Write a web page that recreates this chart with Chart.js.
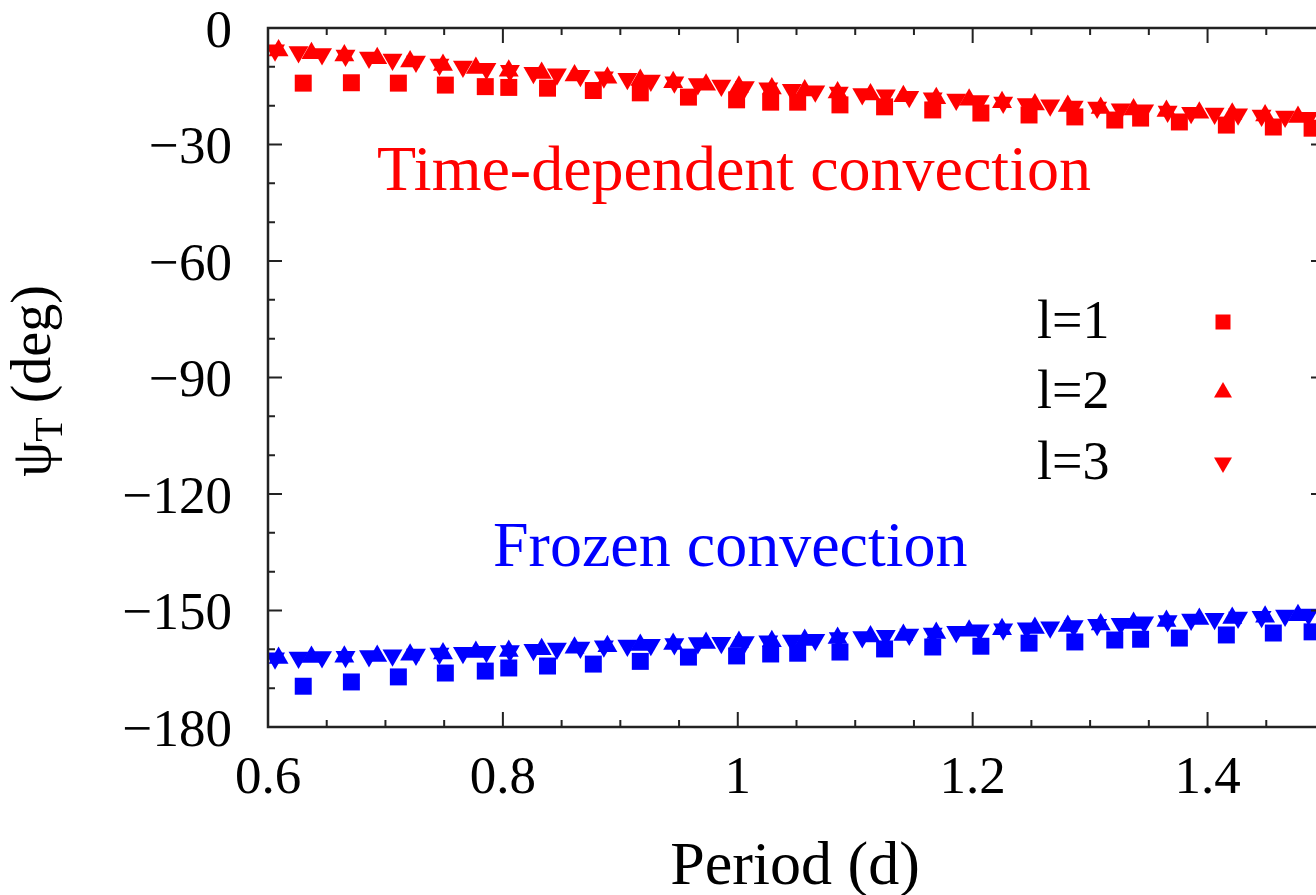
<!DOCTYPE html>
<html>
<head>
<meta charset="utf-8">
<script src="https://cdn.jsdelivr.net/npm/chart.js@4.4.0/dist/chart.umd.min.js"></script>
<style>
  html, body { margin: 0; padding: 0; overflow: hidden; background: #fff; }
  #wrap { width: 1340px; height: 895px; }
</style>
</head>
<body>
<div id="wrap"><canvas id="canvas" width="1340" height="895"></canvas></div>
<script>
// tick labels
var xTicks = [0.6, 0.8, 1, 1.2, 1.4];
var yTicks = [0, -30, -60, -90, -120, -150, -180];

// l=1 mode periods (d)
var periodL1 = [0.630, 0.671, 0.711, 0.751, 0.785, 0.805, 0.838, 0.877, 0.917, 0.958,
  0.999, 1.028, 1.051, 1.087, 1.125, 1.166, 1.207, 1.248, 1.287, 1.321,
  1.343, 1.376, 1.416, 1.456, 1.489];
// l=2 mode periods
var periodL2 = [0.609, 0.637, 0.665, 0.693, 0.721, 0.749, 0.777, 0.805, 0.833, 0.861,
  0.889, 0.917, 0.945, 0.973, 1.001, 1.029, 1.057, 1.085, 1.113, 1.141,
  1.169, 1.197, 1.225, 1.253, 1.281, 1.309, 1.337, 1.365, 1.393, 1.421,
  1.449, 1.477];
// l=3 mode periods
var periodL3 = [0.606, 0.626, 0.646, 0.666, 0.686, 0.706, 0.726, 0.746, 0.766, 0.786,
  0.806, 0.826, 0.846, 0.866, 0.886, 0.906, 0.926, 0.946, 0.966, 0.986,
  1.006, 1.026, 1.046, 1.066, 1.086, 1.106, 1.126, 1.146, 1.166, 1.186,
  1.206, 1.226, 1.246, 1.266, 1.286, 1.306, 1.326, 1.346, 1.366, 1.386,
  1.406, 1.426, 1.446, 1.466, 1.486];

// psi_T, time-dependent convection
var tdcL1 = [-14.2, -14.1, -14.2, -14.7, -15.1, -15.3, -15.5, -16.1, -16.7, -17.8,
  -18.5, -19.1, -19.1, -19.8, -20.3, -21.1, -21.9, -22.4, -22.9, -23.7,
  -23.2, -24.2, -25.0, -25.5, -25.8];
var tdcL2 = [-5.8, -6.5, -7.1, -7.8, -8.6, -9.5, -10.3, -11.0, -11.6, -12.2,
  -12.8, -13.4, -14.0, -14.6, -15.1, -15.6, -16.1, -16.6, -17.1, -17.6,
  -18.1, -18.5, -19.1, -19.7, -20.1, -20.6, -21.0, -21.4, -21.8, -22.1,
  -22.5, -22.9];
var tdcL3 = [-5.7, -6.2, -6.7, -7.1, -7.6, -8.1, -8.6, -9.4, -9.9, -10.5,
  -11.0, -11.5, -11.9, -12.3, -12.7, -13.1, -13.5, -14.0, -14.4, -14.8,
  -15.2, -15.5, -15.9, -16.3, -16.6, -17.0, -17.3, -17.7, -18.1, -18.4,
  -18.8, -19.2, -19.6, -19.9, -20.2, -20.5, -20.9, -21.2, -21.5, -21.8,
  -22.0, -22.2, -22.5, -22.8, -23.1];

// psi_T, frozen convection
var fcL1 = [-169.5, -168.4, -167.1, -166.1, -165.6, -164.8, -164.3, -163.8, -163.1, -162.0,
  -161.7, -161.2, -161.0, -160.7, -159.9, -159.4, -159.2, -158.4, -158.1, -157.6,
  -157.4, -157.1, -156.3, -155.8, -155.5];
var fcL2 = [-162.2, -162.0, -161.9, -161.7, -161.4, -161.1, -160.7, -160.4, -160.0, -159.6,
  -159.2, -158.9, -158.6, -158.4, -158.1, -157.9, -157.6, -157.1, -156.7, -156.3,
  -155.8, -155.2, -154.8, -154.5, -154.0, -153.6, -153.2, -152.7, -152.2, -151.9,
  -151.6, -151.2];
var fcL3 = [-162.3, -162.1, -162.0, -161.9, -161.7, -161.5, -161.3, -161.1, -160.9, -160.6,
  -160.4, -160.1, -159.8, -159.5, -159.2, -159.0, -158.8, -158.6, -158.4, -158.3,
  -158.1, -157.9, -157.7, -157.5, -157.1, -156.8, -156.5, -156.2, -155.9, -155.5,
  -155.1, -154.8, -154.6, -154.3, -154.0, -153.7, -153.4, -153.0, -152.7, -152.3,
  -152.1, -151.8, -151.6, -151.3, -151.0];

var RED = '#ff0000', BLUE = '#0000ff';
var SERIF = '"Liberation Serif", "Times New Roman", serif';

function pts(xs, ys) {
  return xs.map(function (x, i) { return { x: x, y: ys[i] }; });
}
function ds(label, xs, ys, color, style, rot, r) {
  return {
    label: label, data: pts(xs, ys), showLine: false,
    pointStyle: style, rotation: rot, pointRadius: r, pointHoverRadius: r,
    pointBackgroundColor: color, pointBorderColor: color, pointBorderWidth: 0
  };
}

function marker(ctx, style, x, y, s, color) {
  ctx.fillStyle = color;
  ctx.beginPath();
  if (style === 'rect') {
    ctx.rect(x - s / 2, y - s / 2, s, s);
  } else if (style === 'up') {
    ctx.moveTo(x, y - s * 0.55); ctx.lineTo(x + s / 2, y + s * 0.3); ctx.lineTo(x - s / 2, y + s * 0.3);
  } else {
    ctx.moveTo(x, y + s * 0.55); ctx.lineTo(x + s / 2, y - s * 0.3); ctx.lineTo(x - s / 2, y - s * 0.3);
  }
  ctx.closePath();
  ctx.fill();
}

var decor = {
  id: 'decor',
  afterDatasetsDraw: function (chart) {
    var ctx = chart.ctx, a = chart.chartArea;
    var xs = chart.scales.x, ys = chart.scales.y;
    ctx.save();
    // frame
    ctx.strokeStyle = '#222';
    ctx.lineWidth = 2.5;
    ctx.strokeRect(a.left, a.top, a.right - a.left, a.bottom - a.top);
    // inward ticks
    ctx.lineWidth = 2;
    ctx.beginPath();
    var v, p, len;
    for (v = 0.6; v <= 1.5001; v += 0.05) {
      p = xs.getPixelForValue(v);
      len = (Math.abs(Math.round(v * 100) % 20) === 0) ? 15 : 7;
      ctx.moveTo(p, a.bottom); ctx.lineTo(p, a.bottom - len);
      ctx.moveTo(p, a.top); ctx.lineTo(p, a.top + len);
    }
    for (v = -180; v <= 0; v += 10) {
      p = ys.getPixelForValue(v);
      len = (v % 30 === 0) ? 14 : 7;
      ctx.moveTo(a.left, p); ctx.lineTo(a.left + len, p);
      ctx.moveTo(a.right, p); ctx.lineTo(a.right - len, p);
    }
    ctx.stroke();

    // annotations
    ctx.textBaseline = 'alphabetic';
    ctx.textAlign = 'left';
    ctx.font = '64px ' + SERIF;
    ctx.fillStyle = RED;
    ctx.fillText('Time-dependent convection', 377, 190);
    ctx.fillStyle = BLUE;
    ctx.fillText('Frozen convection', 493, 566);

    // key
    ctx.font = '54px ' + SERIF;
    ctx.textBaseline = 'middle';
    var keys = [['l=1', 'rect', 322], ['l=2', 'up', 392], ['l=3', 'down', 463]];
    keys.forEach(function (k) {
      ctx.fillStyle = '#000';
      ctx.fillText(k[0], 1037, k[2] + 2);
      marker(ctx, k[1], 1223, k[2], k[1] === 'rect' ? 15 : 18, RED);
    });

    // x title
    ctx.textAlign = 'center';
    ctx.textBaseline = 'alphabetic';
    ctx.font = '62px ' + SERIF;
    ctx.fillStyle = '#000';
    ctx.fillText('Period (d)', 795, 884);

    // y title with subscript
    ctx.translate(50, 381);
    ctx.rotate(-Math.PI / 2);
    var big = '56px ' + SERIF, small = '40px ' + SERIF;
    ctx.font = big; var w1 = ctx.measureText('\u03c8').width;
    ctx.font = small; var w2 = ctx.measureText('T').width;
    ctx.font = big; var w3 = ctx.measureText(' (deg)').width;
    var x0 = -(w1 + w2 + w3) / 2;
    ctx.textAlign = 'left';
    ctx.font = big; ctx.fillText('\u03c8', x0, 0);
    ctx.font = small; ctx.fillText('T', x0 + w1, 12);
    ctx.font = big; ctx.fillText(' (deg)', x0 + w1 + w2, 0);
    ctx.restore();
  }
};

var ctx = document.getElementById('canvas').getContext('2d');
var chart = new Chart(ctx, {
  type: 'scatter',
  data: {
    datasets: [
      ds('l=3', periodL3, tdcL3, RED, 'triangle', 180, 11.5),
      ds('l=2', periodL2, tdcL2, RED, 'triangle', 0, 11.5),
      ds('l=1', periodL1, tdcL1, RED, 'rect', 0, 12),
      ds('l=3 frozen', periodL3, fcL3, BLUE, 'triangle', 180, 11.5),
      ds('l=2 frozen', periodL2, fcL2, BLUE, 'triangle', 0, 11.5),
      ds('l=1 frozen', periodL1, fcL1, BLUE, 'rect', 0, 12)
    ]
  },
  options: {
    responsive: false,
    animation: false,
    layout: { padding: { left: 0, top: 28, right: 15, bottom: 0 } },
    plugins: { legend: { display: false }, tooltip: { enabled: false } },
    scales: {
      x: {
        type: 'linear', min: 0.6, max: 1.5,
        afterBuildTicks: function (s) { s.ticks = xTicks.map(function (v) { return { value: v }; }); },
        afterFit: function (s) { s.height = 168; s.paddingLeft = 0; s.paddingRight = 0; },
        grid: { display: false, drawTicks: false },
        border: { display: false },
        ticks: {
          autoSkip: false, maxRotation: 0, padding: 26, color: '#000',
          font: { family: SERIF, size: 53, lineHeight: 1 },
          callback: function (v) { return String(v); }
        }
      },
      y: {
        type: 'linear', min: -180, max: 0,
        afterBuildTicks: function (s) { s.ticks = yTicks.map(function (v) { return { value: v }; }); },
        afterFit: function (s) { s.width = 268; s.paddingTop = 0; s.paddingBottom = 0; },
        grid: { display: false, drawTicks: false },
        border: { display: false },
        ticks: {
          autoSkip: false, padding: 36, color: '#000', labelOffset: 5,
          font: { family: SERIF, size: 53, lineHeight: 1 },
          callback: function (v) { return v < 0 ? '\u2212' + Math.abs(v) : String(v); }
        }
      }
    }
  },
  plugins: [decor]
});
</script>
</body>
</html>
